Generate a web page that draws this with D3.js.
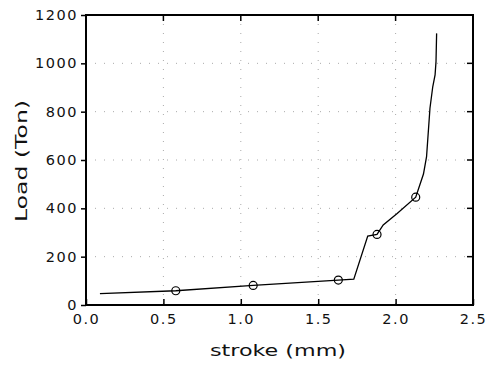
<!DOCTYPE html>
<html>
<head>
<style>
  body{ margin:0; background:#fff; }
  svg text{ font-family: "DejaVu Sans", sans-serif; fill:#111; }
</style>
<script src="https://d3js.org/d3.v7.min.js"></script>
</head>
<body>
<script>
// curve
const strokeMm = [0.09, 0.58, 1.08, 1.63, 1.73, 1.82, 1.88, 1.92, 2.01, 2.13, 2.18, 2.20, 2.222, 2.24, 2.255, 2.261, 2.265];
const loadTon  = [47,   59,   81,   103,  107,  285,  292,  331,  379,  446,  542,  614,  814,   903,  952,   1007,  1124];
// circle markers
const markStroke = [0.58, 1.08, 1.63, 1.88, 2.13];
const markLoad   = [59,   81,   103,  292,  446];

const xTicks = [0, 0.5, 1.0, 1.5, 2.0, 2.5];
const yTicks = [0, 200, 400, 600, 800, 1000, 1200];

const w = 492, h = 366;
const pLeft = 86, pRight = 473, pTop = 15, pBottom = 305;

const svg = d3.select("body").append("svg")
  .attr("width", w).attr("height", h);

const x = d3.scaleLinear().domain([0, 2.5]).range([pLeft, pRight]);
const y = d3.scaleLinear().domain([0, 1200]).range([pBottom, pTop]);

// dotted grid
const grid = svg.append("g").attr("stroke", "#aaa").attr("stroke-width", 1)
  .attr("stroke-dasharray", "1,8");
grid.selectAll(".gx").data(xTicks.slice(1, -1)).enter().append("line")
  .attr("x1", d => x(d)).attr("x2", d => x(d)).attr("y1", pTop).attr("y2", pBottom);
grid.selectAll(".gy").data(yTicks.slice(1, -1)).enter().append("line")
  .attr("y1", d => y(d)).attr("y2", d => y(d)).attr("x1", pLeft).attr("x2", pRight);

// axes
const xAxis = d3.axisBottom(x).tickValues(xTicks).tickFormat(d3.format(".1f")).tickSize(-6).tickPadding(6);
const yAxis = d3.axisLeft(y).tickValues(yTicks).tickFormat(d3.format("d")).tickSize(5).tickPadding(3);

const gx = svg.append("g").attr("transform", `translate(0,${pBottom})`).call(xAxis);
const gy = svg.append("g").attr("transform", `translate(${pLeft},0)`).call(yAxis);
[gx, gy].forEach(g => {
  g.select(".domain").remove();
  g.selectAll(".tick line").attr("stroke", "#000").attr("stroke-width", 1.5);
  g.selectAll("text").style("font-size", "14.5px").style("letter-spacing", "1.5px").attr("fill", "#111");
});
gx.selectAll("text").attr("dy", "0.9em");

// top and right ticks (inward)
svg.append("g").selectAll("line").data(xTicks.slice(1, -1)).enter().append("line")
  .attr("x1", d => x(d)).attr("x2", d => x(d)).attr("y1", pTop).attr("y2", pTop + 6)
  .attr("stroke", "#000").attr("stroke-width", 1.5);
svg.append("g").selectAll("line").data(yTicks.slice(1, -1)).enter().append("line")
  .attr("x1", pRight).attr("x2", pRight - 6).attr("y1", d => y(d)).attr("y2", d => y(d))
  .attr("stroke", "#000").attr("stroke-width", 1.5);

// frame
svg.append("rect").attr("x", pLeft).attr("y", pTop)
  .attr("width", pRight - pLeft).attr("height", pBottom - pTop)
  .attr("fill", "none").attr("stroke", "#000").attr("stroke-width", 2);

// curve
const pts = strokeMm.map((s, i) => [s, loadTon[i]]);
svg.append("path").datum(pts)
  .attr("d", d3.line().x(d => x(d[0])).y(d => y(d[1])))
  .attr("fill", "none").attr("stroke", "#000").attr("stroke-width", 1.3);

svg.selectAll(".mk").data(markStroke).enter().append("circle")
  .attr("cx", d => x(d)).attr("cy", (d, i) => y(markLoad[i]))
  .attr("r", 4).attr("fill", "none").attr("stroke", "#000").attr("stroke-width", 1.2);

// axis titles
svg.append("text").attr("x", 278).attr("y", 356).attr("text-anchor", "middle")
  .style("font-size", "16px").attr("textLength", 136).attr("lengthAdjust", "spacingAndGlyphs")
  .text("stroke  (mm)");
svg.append("text").attr("transform", "translate(27,161) rotate(-90)").attr("text-anchor", "middle")
  .style("font-size", "16px").attr("textLength", 122).attr("lengthAdjust", "spacingAndGlyphs")
  .text("Load  (Ton)");
</script>
</body>
</html>
